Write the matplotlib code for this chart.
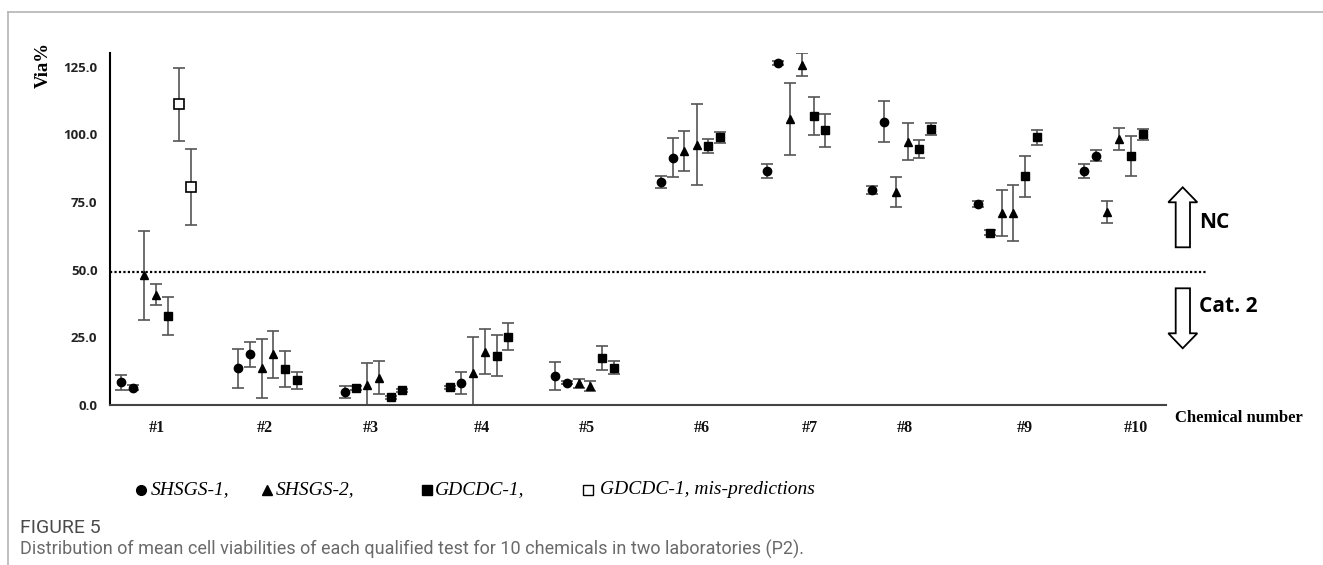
import matplotlib
matplotlib.use("Agg")
import matplotlib.pyplot as plt
from matplotlib.lines import Line2D
from matplotlib.patches import Polygon

# ---------------- data ----------------
chemicals = ["#1", "#2", "#3", "#4", "#5", "#6", "#7", "#8", "#9", "#10"]
y_ticks = [0, 25, 50, 75, 100, 125]
y_tick_labels = ["0.0", "25.0", "50.0", "75.0", "100.0", "125.0"]
threshold = 49.3

# SHSGS-1 (filled circles)
shsgs1_x = [0.67, 0.78, 1.754, 1.862, 2.735, 3.809, 4.676, 4.786, 5.647, 5.758,
            6.627, 6.731, 7.597, 7.708, 8.574, 9.548, 9.656]
shsgs1_y = [8.4, 6.4, 13.5, 18.7, 4.7, 8.2, 10.8, 8.2, 82.2, 91.3,
            86.4, 126.4, 79.5, 104.7, 74.3, 86.3, 92.1]
shsgs1_err = [2.8, 1.0, 7.2, 4.5, 2.2, 4.0, 5.1, 0.6, 2.2, 7.2,
              2.7, 0.8, 1.5, 7.7, 1.0, 2.6, 2.0]

# SHSGS-2 (filled triangles)
shsgs2_x = [0.885, 0.995, 1.972, 2.077, 2.943, 3.051, 3.92, 4.028, 4.894, 4.998,
            5.865, 5.979, 6.839, 6.949, 7.816, 7.923, 8.79, 8.897, 9.76, 9.871]
shsgs2_y = [47.9, 40.8, 13.5, 18.7, 7.4, 10.1, 11.7, 19.7, 8.0, 7.0,
            93.8, 96.2, 105.6, 125.7, 78.7, 97.3, 70.9, 70.9, 71.3, 98.2]
shsgs2_err = [16.5, 3.8, 11.0, 8.7, 8.0, 6.0, 13.3, 8.4, 1.7, 2.0,
              7.5, 14.8, 13.4, 4.2, 5.5, 6.9, 8.6, 10.3, 3.9, 4.1]

# GDCDC-1 (filled squares)
gdcdc1_x = [1.103, 2.184, 2.295, 2.836, 3.159, 3.265, 3.705, 4.135, 4.24, 5.106,
            5.217, 6.08, 6.19, 7.057, 7.164, 8.028, 8.138, 8.685, 9.002, 9.113,
            9.979, 10.09]
gdcdc1_y = [32.8, 13.3, 9.1, 6.4, 2.8, 5.4, 6.6, 18.2, 25.2, 17.4,
            13.8, 95.6, 98.8, 106.6, 101.4, 94.5, 101.9, 63.7, 84.4, 98.8,
            91.9, 100.0]
gdcdc1_err = [7.0, 6.8, 3.2, 0.8, 0.5, 0.5, 0.6, 7.5, 4.9, 4.5,
              2.4, 2.5, 1.9, 7.0, 6.1, 3.3, 2.2, 1.0, 7.7, 2.8,
              7.3, 2.1]

# GDCDC-1, mis-predictions (open squares)
gdcdc1_mis_x = [1.21, 1.318]
gdcdc1_mis_y = [111.0, 80.5]
gdcdc1_mis_err = [13.4, 14.0]

legend_labels = ["SHSGS-1,", "SHSGS-2,", "GDCDC-1,", "GDCDC-1, mis-predictions"]

# ---------------- layout ----------------
W, H = 1323, 565
fig = plt.figure(figsize=(W / 100, H / 100), dpi=100)
fig.patch.set_facecolor("white")


def fx(px):
    return px / W


def fy(py):
    return 1 - py / H


ax = fig.add_axes([fx(110), fy(405), (1166 - 110) / W, (405 - 53) / H])
ax.set_xlim(0.571, 10.304)
ax.set_ylim(0, 130)

err_kw = dict(ecolor="#555555", elinewidth=1.2, capsize=4, capthick=1.2, linestyle="none")
ax.errorbar(shsgs1_x, shsgs1_y, yerr=shsgs1_err, marker="o", ms=6,
            mfc="black", mec="black", **err_kw)
ax.errorbar(shsgs2_x, shsgs2_y, yerr=shsgs2_err, marker="^", ms=6,
            mfc="black", mec="black", **err_kw)
ax.errorbar(gdcdc1_x, gdcdc1_y, yerr=gdcdc1_err, marker="s", ms=5.8,
            mfc="black", mec="black", **err_kw)
ax.errorbar(gdcdc1_mis_x, gdcdc1_mis_y, yerr=gdcdc1_mis_err, marker="s", ms=6.5,
            mfc="white", mec="black", mew=1.2, **err_kw)

# threshold dotted line (extends past the axis)
ax.plot([0, 1.038], [threshold, threshold], transform=ax.get_yaxis_transform(),
        color="black", lw=1.6, ls=(0, (1, 1)), clip_on=False)

for s in ["top", "right"]:
    ax.spines[s].set_visible(False)
ax.spines["left"].set_color("black")
ax.spines["left"].set_linewidth(1.5)
ax.spines["bottom"].set_color("#444444")
ax.spines["bottom"].set_linewidth(1.5)

ax.set_yticks(y_ticks)
ax.set_yticklabels(y_tick_labels, fontfamily="Open Sans", fontweight="bold",
                   fontsize=9.5, color="#222222")
tick_pos = [1.0, 2.0, 2.97, 4.0, 4.97, 6.03, 7.02, 7.9, 9.0, 10.03]
ax.set_xticks(tick_pos)
ax.set_xticklabels(chemicals, fontfamily="Liberation Serif", fontweight="bold",
                   fontsize=11.5, color="#111111")
ax.tick_params(axis="y", length=0, pad=9)
ax.tick_params(axis="x", length=0, pad=11)

fig.text(fx(43), fy(65), "Via%", rotation=90, ha="center", va="center",
         fontfamily="Liberation Serif", fontweight="bold", fontsize=13.5)
fig.text(fx(1175), fy(418), "Chemical number", ha="left", va="center",
         fontfamily="Liberation Serif", fontweight="bold", fontsize=12)

# block arrows
up = [(1182.7, 187.3), (1197.3, 202.3), (1190, 202.3), (1190, 247.3),
      (1175.7, 247.3), (1175.7, 202.3), (1168.3, 202.3)]
down = [(1182.7, 348.3), (1197.3, 333.3), (1190, 333.3), (1190, 288.3),
        (1175.7, 288.3), (1175.7, 333.3), (1168.3, 333.3)]
for pts in (up, down):
    fig.add_artist(Polygon([(fx(a), fy(b)) for a, b in pts], closed=True,
                           facecolor="white", edgecolor="black", lw=1.3,
                           transform=fig.transFigure))
fig.text(fx(1199), fy(223), "NC", ha="left", va="center",
         fontfamily="Open Sans", fontweight="bold", fontsize=15)
fig.text(fx(1199), fy(307), "Cat. 2", ha="left", va="center",
         fontfamily="Open Sans", fontweight="bold", fontsize=15)

# legend (drawn manually)
leg_y = 490
leg_items = [
    (141, 151, "o", "black", legend_labels[0]),
    (267, 276, "^", "black", legend_labels[1]),
    (427, 435, "s", "black", legend_labels[2]),
    (588, 600, "s", "white", legend_labels[3]),
]
for mx, tx, m, fc, lab in leg_items:
    fig.add_artist(Line2D([fx(mx)], [fy(leg_y)], marker=m, ms=7, mfc=fc,
                          mec="black", mew=1.0, ls="none",
                          transform=fig.transFigure))
    fig.text(fx(tx), fy(leg_y), lab, ha="left", va="center",
             fontfamily="Liberation Serif", fontstyle="italic", fontsize=14)

# caption
fig.text(fx(20), fy(528), "FIGURE 5", ha="left", va="center",
         fontfamily="Roboto", fontsize=14, color="#4a4a4a")
fig.text(fx(20), fy(549),
         "Distribution of mean cell viabilities of each qualified test for 10 chemicals in two laboratories (P2).",
         ha="left", va="center", fontfamily="Roboto", fontsize=13, color="#6a6a6a")

# frame lines of the figure panel
fig.add_artist(Line2D([fx(8), 1], [fy(12), fy(12)], color="#b5b5b5", lw=1.2,
                      transform=fig.transFigure))
fig.add_artist(Line2D([fx(8), fx(8)], [fy(12), 0], color="#b5b5b5", lw=1.2,
                      transform=fig.transFigure))

fig.savefig("out.png", dpi=100, facecolor="white")
